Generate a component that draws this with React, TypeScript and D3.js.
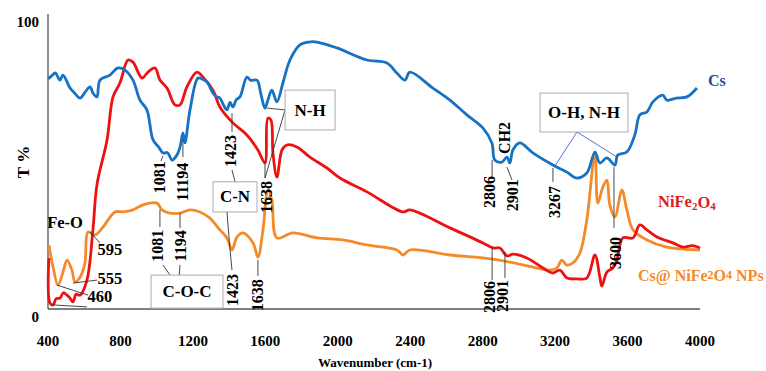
import React from "react";
import * as d3 from "d3";

const W = 766, H = 371;
const FONT = "'Liberation Serif', 'Times New Roman', serif";

// Cs (blue)
const csWn = [400,420,440,466,483,521,550,577,605,632,650,670,687,742,786,825,869,908,946,980,1010,1035,1060,1085,1110,1129,1145,1156,1184,1228,1250,1278,1311,1330,1349,1370,1388,1405,1421,1440,1460,1498,1520,1554,1575,1598,1615,1636,1664,1697,1736,1791,1840,1885,1995,2161,2271,2326,2371,2398,2525,2619,2713,2801,2851,2867,2906,2934,2950,2967,3005,3077,3188,3265,3320,3375,3420,3447,3486,3530,3546,3596,3640,3668,3707,3740,3795,3817,3870,3928,3983];
const csT =  [78,79,80,77.6,79.3,75,73,71.5,73.5,75.3,73,71.9,77.6,79.3,81.7,81,77.6,70.8,67.5,57.3,55,52.9,53,50.5,52,54.9,59.7,56.3,67.5,78.3,78,76.9,73.2,72,71.5,69,67.5,70,68.5,71,71.9,78.6,77.5,77.6,73,68.1,71,74.2,70.2,76.6,84.4,89.5,90.5,90.5,88.5,84.4,83.4,80,77.6,80.3,74.9,70.8,65.8,61.4,56.3,50.5,49.8,51.5,49.5,53.9,56.3,52.9,48.8,46.4,44.4,46.1,53.2,49.5,51.2,48.8,52.2,53.2,59,65.8,66.8,70.2,72.5,70.8,71.5,71.9,74.9];

// NiFe2O4 (red)
const niWn = [405,411,428,445,466,485,505,521,538,555,577,615,648,670,726,759,797,842,869,919,952,991,1018,1057,1101,1129,1167,1222,1256,1311,1349,1421,1498,1559,1598,1614,1631,1642,1664,1692,1719,1774,1846,1940,2012,2161,2360,2398,2619,2801,2857,2895,2934,2967,3044,3133,3188,3226,3265,3320,3375,3420,3447,3458,3486,3519,3541,3574,3630,3668,3707,3762,3851,3906,3960,4000];
const niT =  [17.3,2.0,1.4,3.5,3.7,5.5,4.7,3.7,2.4,5.0,4.7,9.8,26.8,42,57.3,71.9,76.6,84.4,83.7,78.3,80.3,81.7,77.6,74.9,69.2,69.2,75.3,80.3,78.6,74.2,68.5,63.1,59,53.9,49.5,64.7,64.1,52.9,44.7,53.9,55.6,54.9,51.5,47.8,44.4,39.7,32.9,33.6,27.5,22.4,20.7,20.7,18,18.6,17.3,13.9,12.2,13.2,10.5,10.2,10.5,18.3,10.8,7.8,12.5,13.9,16.6,24.1,24.1,28.5,26.8,24.4,22.4,21,21.5,20.7];

// Cs@NiFe2O4 NPs (orange)
const npWn = [405,428,455,483,505,532,549,577,604,621,659,704,770,814,869,924,1002,1029,1073,1129,1184,1239,1294,1349,1388,1416,1443,1476,1532,1559,1587,1614,1636,1664,1752,1885,2028,2161,2327,2360,2398,2619,2801,2950,3077,3171,3210,3237,3265,3298,3337,3375,3420,3436,3464,3486,3502,3530,3569,3596,3630,3707,3817,4000];
const npT =  [21.7,14.2,8.1,12.5,16.6,13.2,9.2,10.8,15.6,26.1,25.1,27.8,32.9,32.9,33.6,35.3,35.9,33.6,32.5,32.5,33.6,32.9,30.8,26.8,24.1,20,24.4,25.8,22.4,17.6,26.8,40.3,36.9,24.1,25.8,24.1,23.4,21.7,20,18.3,20,18.3,17.3,15.9,14.2,13.2,13.9,16.6,14.9,15.6,19,30.2,53.2,35.9,41.4,43.7,35.3,31.2,40.3,33.6,26.8,23.4,21,20];

const xTicks = [400,800,1200,1600,2000,2400,2800,3200,3600,4000];
const yTicks = [0,100];

// rotated peak labels: text, wavenumber, T (centre)
const peakLabels: [string, number, number][] = [
  ["1081",1013,44.7],["11194",1145,43.1],["1423",1405,53.6],["1423",1416,6.4],
  ["1081",1007,21.4],["1194",1134,21.4],["1638",1554,4.7],["1638",1609,38.0],
  ["CH2",2923,58.0],["2806",2840,39.7],["2901",2962,38.6],["2806",2840,4.1],
  ["2901",2912,4.4],["3267",3199,36.3],["3600",3531,19.0]
];
// leader lines: wn1,t1,wn2,t2
const leaders: [number, number, number, number][] = [
  [1035,51.9,1024,50.2],[1145,57.3,1145,51.5],[1416,66.4,1416,60.0],[1416,47.1,1433,43.1],
  [1388,32.9,1405,20.0],[1405,20.0,1416,13.2],[1018,33.6,1018,27.8],[1129,32.5,1129,27.5],
  [1035,14.9,1074,11.5],[1129,14.9,1123,10.2],[1559,16.6,1559,11.2],[1598,49.8,1598,44.4],
  [1709,67.5,1609,68.1],[1709,67.5,1598,44.4],[2852,50.5,2852,44.7],[2934,48.1,2962,43.7],
  [2852,21.0,2852,9.8],[2923,19.3,2923,10.5],[3188,47.8,3188,43.1],[3525,48.1,3525,27.5],
  [632,26.1,687,22.4],[538,8.8,671,9.8],[450,8.1,621,4.7],[422,1.4,615,0.7]
];
const blueLeaders: [number, number, number, number][] = [
  [3321,60.0,3199,48.5],[3321,60.0,3542,51.5]
];
// boxes: text, wn1, t1, wn2, t2
const boxes: [string, number, number, number, number][] = [
  ["C-N",1311,43.1,1554,32.9],["C-O-C",969,11.5,1366,0.3],
  ["N-H",1709,74.2,1985,60.7],["O-H, N-H",3117,73.2,3602,60.0]
];
// plain labels
const plainLabels: [string, number, number][] = [
  ["Fe-O",494,29.2],["595",742,20.3],["555",742,10.5],["460",687,4.1]
];

export default function App() {
  const x = d3.scaleLinear().domain([400, 4000]).range([48, 700]);
  const y = d3.scaleLinear().domain([0, 100]).range([309, 14]);
  const mk = (wn: number[], t: number[]) =>
    d3.line<number>().x((d) => x(wn[d])).y((d) => y(t[d])).curve(d3.curveCatmullRom.alpha(0.5))(d3.range(wn.length)) || "";

  return (
    <svg width={W} height={H} style={{ position: "absolute", left: 0, top: 0, background: "#fff" }} fontFamily={FONT}>
      <rect width={W} height={H} fill="#fff" />
      {/* axes */}
      <line x1={x(400)} x2={x(400)} y1={y(100)} y2={y(0)} stroke="#555" strokeWidth={1.3} />
      <line x1={x(400)} x2={x(4000)} y1={y(0)} y2={y(0)} stroke="#555" strokeWidth={1.3} />
      {yTicks.map((t) => (
        <text key={t} x={39} y={y(t) + 8} textAnchor="end" dominantBaseline="central" fontSize={15} fontWeight="bold">{t}</text>
      ))}
      {xTicks.map((t) => (
        <text key={t} x={x(t)} y={341} textAnchor="middle" dominantBaseline="central" fontSize={15} fontWeight="bold">{t}</text>
      ))}
      <text transform={`translate(23,162) rotate(-90)`} textAnchor="middle" dominantBaseline="central" fontSize={17} fontWeight="bold">T %</text>
      <text x={375} y={362} textAnchor="middle" dominantBaseline="central" fontSize={13} fontWeight="bold">Wavenumber (cm-1)</text>

      {/* series */}
      <path d={mk(npWn, npT)} fill="none" stroke="#F58A2A" strokeWidth={2.8} strokeLinejoin="round" />
      <path d={mk(niWn, niT)} fill="none" stroke="#EE1111" strokeWidth={2.8} strokeLinejoin="round" />
      <path d={mk(csWn, csT)} fill="none" stroke="#1572C4" strokeWidth={2.8} strokeLinejoin="round" />

      {/* annotations */}
      {leaders.map((l, i) => (
        <line key={"l" + i} x1={x(l[0])} y1={y(l[1])} x2={x(l[2])} y2={y(l[3])} stroke="#333" strokeWidth={0.9} />
      ))}
      {blueLeaders.map((l, i) => (
        <line key={"b" + i} x1={x(l[0])} y1={y(l[1])} x2={x(l[2])} y2={y(l[3])} stroke="#3b63d6" strokeWidth={0.9} />
      ))}
      {boxes.map((b, i) => (
        <g key={"bx" + i}>
          <rect x={x(b[1])} y={y(b[2])} width={x(b[3]) - x(b[1])} height={y(b[4]) - y(b[2])} fill="#fff" stroke="#aaa" strokeWidth={1} />
          <text x={(x(b[1]) + x(b[3])) / 2} y={(y(b[2]) + y(b[4])) / 2} textAnchor="middle" dominantBaseline="central" fontSize={17} fontWeight="bold">{b[0]}</text>
        </g>
      ))}
      {peakLabels.map((p, i) => (
        <text key={"p" + i} transform={`translate(${x(p[1])},${y(p[2])}) rotate(-90)`} textAnchor="middle" dominantBaseline="central" fontSize={16} fontWeight="bold">{p[0]}</text>
      ))}
      {plainLabels.map((p, i) => (
        <text key={"t" + i} x={x(p[1])} y={y(p[2])} textAnchor="middle" dominantBaseline="central" fontSize={16.5} fontWeight="bold">{p[0]}</text>
      ))}

      {/* legend labels */}
      <text x={x(4044)} y={y(77.6)} dominantBaseline="central" fontSize={16} fontWeight="bold" fill="#1F4E9A">Cs</text>
      <text x={x(3768)} y={y(36.3)} dominantBaseline="central" fontSize={16.5} fontWeight="bold" fill="#E21B1B">
        NiFe<tspan fontSize={11} dy={4}>2</tspan><tspan dy={-4}>O</tspan><tspan fontSize={11} dy={4}>4</tspan>
      </text>
      <text x={x(3658)} y={y(11.5)} dominantBaseline="central" fontSize={16} fontWeight="bold" fill="#F58A2A">Cs@ NiFe<tspan fontSize={12}>2</tspan>O<tspan fontSize={12}>4</tspan> NPs</text>
    </svg>
  );
}
